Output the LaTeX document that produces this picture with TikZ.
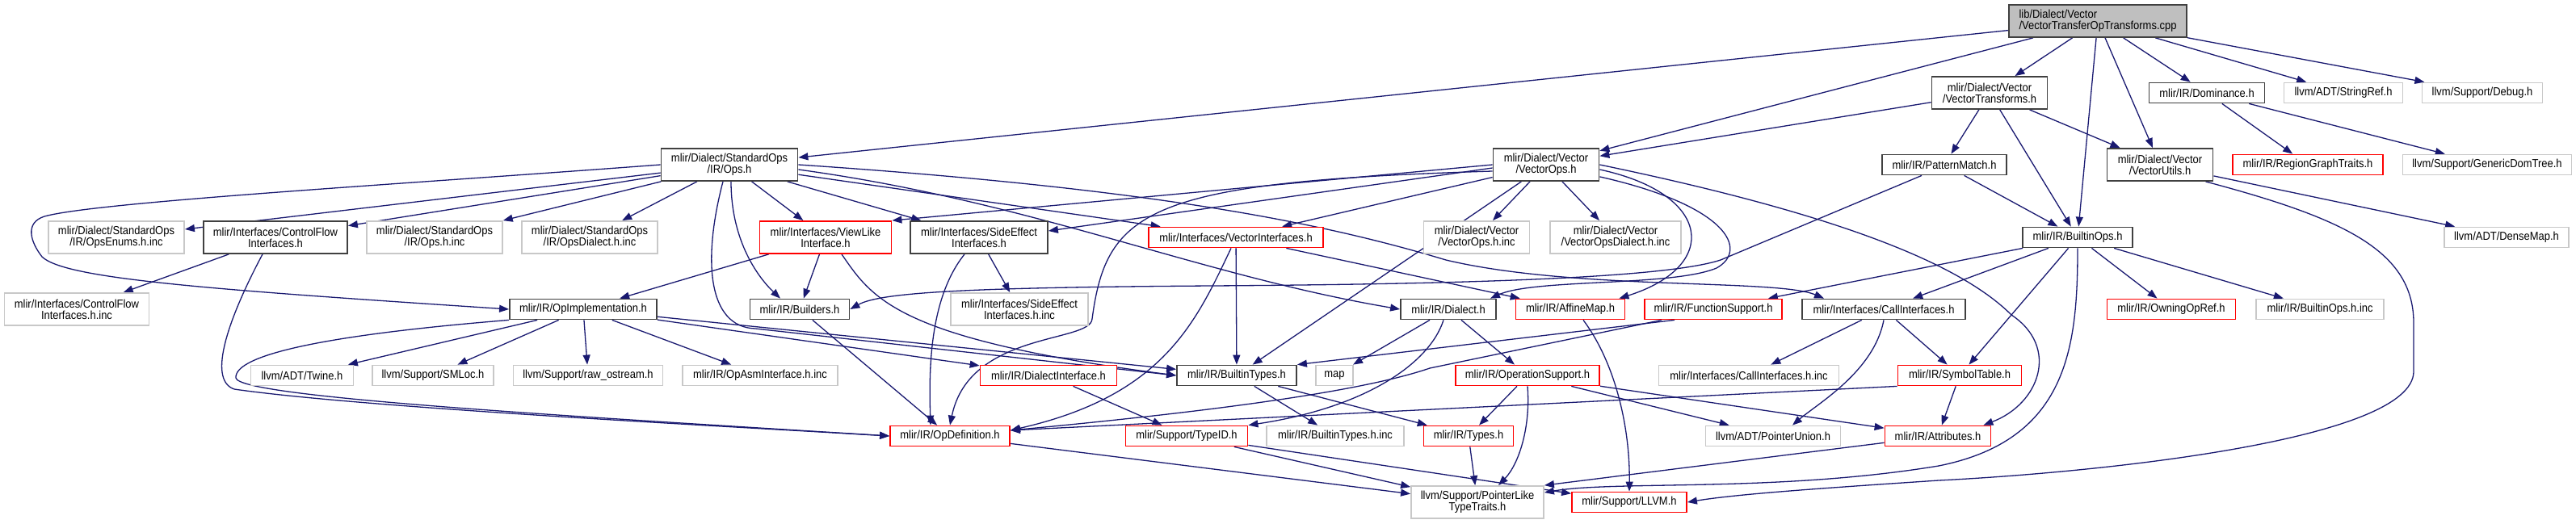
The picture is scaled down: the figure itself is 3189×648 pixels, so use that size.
\documentclass[tikz,border=0pt]{standalone}
\usepackage{fontspec}
\setmainfont{Liberation Sans}[FakeStretch=0.9]
\usetikzlibrary{arrows.meta}
\definecolor{edgeblue}{RGB}{25,25,112}
\definecolor{bordblk}{RGB}{64,64,64}
\definecolor{bordgray}{RGB}{200,200,200}
\definecolor{bordred}{RGB}{255,0,0}
\definecolor{mainfill}{RGB}{191,191,191}
\newcommand\dxfont{\fontsize{7.2pt}{7pt}\selectfont}
\pgfdeclarelayer{bg}
\pgfsetlayers{bg,main}
\begin{document}
\begin{tikzpicture}[x=0.5pt,y=-0.5pt,
  box/.style={rectangle, inner sep=0pt, line width=0.9pt, fill=white, font=\dxfont, align=center, minimum height=12.5pt},
  blk/.style={box, draw=bordblk},
  rednode/.style={box, draw=bordred},
  ext/.style={box, draw=bordgray},
  mainnode/.style={box, draw=bordblk, fill=mainfill, align=left},
  tall/.style={minimum height=20pt},
  edg/.style={draw=edgeblue, line width=0.65pt, -{Triangle[length=6pt,width=4.5pt]}}]
\useasboundingbox (0,0) rectangle (3189,648);

% row 0
\node[mainnode, tall, minimum width=110pt] (main) at (2597,26) {lib/Dialect/Vector\\/VectorTransferOpTransforms.cpp};
% row 1
\node[blk, tall, minimum width=71.5pt] (vtrans) at (2463,115) {mlir/Dialect/Vector\\/VectorTransforms.h};
\node[blk, minimum width=71.5pt] (dom) at (2732,115) {mlir/IR/Dominance.h};
\node[ext, minimum width=73.5pt] (sref) at (2901,115) {llvm/ADT/StringRef.h};
\node[ext, minimum width=74.5pt] (debug) at (3073,115) {llvm/Support/Debug.h};
% row 2
\node[blk, tall, minimum width=84.5pt] (stdops) at (903,204) {mlir/Dialect/StandardOps\\/IR/Ops.h};
\node[blk, tall, minimum width=65.5pt] (vops) at (1914,204) {mlir/Dialect/Vector\\/VectorOps.h};
\node[blk, minimum width=77pt] (pmatch) at (2407,204) {mlir/IR/PatternMatch.h};
\node[blk, tall, minimum width=65.5pt] (vutils) at (2674,204) {mlir/Dialect/Vector\\/VectorUtils.h};
\node[rednode, minimum width=93pt] (rgt) at (2857,204) {mlir/IR/RegionGraphTraits.h};
\node[ext, minimum width=104.5pt] (gdt) at (3079,204) {llvm/Support/GenericDomTree.h};
% row 3
\node[ext, tall, minimum width=84pt] (opsenums) at (144,294) {mlir/Dialect/StandardOps\\/IR/OpsEnums.h.inc};
\node[blk, tall, minimum width=89pt] (cfi) at (341,294) {mlir/Interfaces/ControlFlow\\Interfaces.h};
\node[ext, tall, minimum width=84pt] (opsinc) at (538,294) {mlir/Dialect/StandardOps\\/IR/Ops.h.inc};
\node[ext, tall, minimum width=84pt] (opsdialect) at (730,294) {mlir/Dialect/StandardOps\\/IR/OpsDialect.h.inc};
\node[rednode, tall, minimum width=81.5pt] (viewlike) at (1022,294) {mlir/Interfaces/ViewLike\\Interface.h};
\node[blk, tall, minimum width=85pt] (sideeff) at (1212,294) {mlir/Interfaces/SideEffect\\Interfaces.h};
\node[rednode, minimum width=108pt] (vecif) at (1530,294) {mlir/Interfaces/VectorInterfaces.h};
\node[ext, tall, minimum width=65.5pt] (vopsinc) at (1828,294) {mlir/Dialect/Vector\\/VectorOps.h.inc};
\node[ext, tall, minimum width=81pt] (vopsdinc) at (2000,294) {mlir/Dialect/Vector\\/VectorOpsDialect.h.inc};
\node[blk, minimum width=68pt] (bops) at (2572,294) {mlir/IR/BuiltinOps.h};
\node[ext, minimum width=77pt] (dmap) at (3103,294) {llvm/ADT/DenseMap.h};
% row 4
\node[ext, tall, minimum width=89.5pt] (cfiinc) at (95,383) {mlir/Interfaces/ControlFlow\\Interfaces.h.inc};
\node[blk, minimum width=91pt] (opimpl) at (722,383) {mlir/IR/OpImplementation.h};
\node[blk, minimum width=61.5pt] (builders) at (990,383) {mlir/IR/Builders.h};
\node[ext, tall, minimum width=85pt] (sideinc) at (1262,383) {mlir/Interfaces/SideEffect\\Interfaces.h.inc};
\node[blk, minimum width=59pt] (dialect) at (1793,383) {mlir/IR/Dialect.h};
\node[rednode, minimum width=67.5pt] (amap) at (1944,383) {mlir/IR/AffineMap.h};
\node[rednode, minimum width=85pt] (fsup) at (2121,383) {mlir/IR/FunctionSupport.h};
\node[blk, minimum width=101pt] (callif) at (2332,383) {mlir/Interfaces/CallInterfaces.h};
\node[rednode, minimum width=79.5pt] (owning) at (2688,383) {mlir/IR/OwningOpRef.h};
\node[ext, minimum width=79pt] (bopsinc) at (2872,383) {mlir/IR/BuiltinOps.h.inc};
% row 5
\node[ext, minimum width=63.5pt] (twine) at (374,465) {llvm/ADT/Twine.h};
\node[ext, minimum width=75pt] (smloc) at (536,465) {llvm/Support/SMLoc.h};
\node[ext, minimum width=92.5pt] (rawos) at (728,465) {llvm/Support/raw\_ostream.h};
\node[ext, minimum width=96pt] (opasm) at (941,465) {mlir/IR/OpAsmInterface.h.inc};
\node[rednode, minimum width=84.5pt] (diaif) at (1298,465) {mlir/IR/DialectInterface.h};
\node[blk, minimum width=74pt] (btypes) at (1531,465) {mlir/IR/BuiltinTypes.h};
\node[ext, minimum width=23pt] (map) at (1652,465) {map};
\node[rednode, minimum width=89pt] (opsup) at (1891,465) {mlir/IR/OperationSupport.h};
\node[ext, minimum width=111.5pt] (callinc) at (2165,465) {mlir/Interfaces/CallInterfaces.h.inc};
\node[rednode, minimum width=76.5pt] (symtab) at (2426,465) {mlir/IR/SymbolTable.h};
% row 6
\node[rednode, minimum width=74pt] (opdef) at (1176,540) {mlir/IR/OpDefinition.h};
\node[rednode, minimum width=75.5pt] (typeid) at (1469,540) {mlir/Support/TypeID.h};
\node[ext, minimum width=85pt] (btinc) at (1653,540) {mlir/IR/BuiltinTypes.h.inc};
\node[rednode, minimum width=55.5pt] (types) at (1818,540) {mlir/IR/Types.h};
\node[ext, minimum width=83.5pt] (punion) at (2195,540) {llvm/ADT/PointerUnion.h};
\node[rednode, minimum width=65.5pt] (attrs) at (2399,540) {mlir/IR/Attributes.h};
% row 7
\node[ext, tall, minimum width=82pt] (plike) at (1829,622) {llvm/Support/PointerLike\\TypeTraits.h};
\node[rednode, minimum width=71pt] (llvm) at (2017,622) {mlir/Support/LLVM.h};

\begin{pgfonlayer}{bg}
% main
\draw[edg] (main) -- (stdops);
\draw[edg] (main) -- (vops);
\draw[edg] (main) -- (vtrans);
\draw[edg] (main) -- (bops);
\draw[edg] (main) -- (vutils);
\draw[edg] (main) -- (dom);
\draw[edg] (main) -- (sref);
\draw[edg] (main) -- (debug);
% vtrans
\draw[edg] (vtrans) -- (vops);
\draw[edg] (vtrans) -- (pmatch);
\draw[edg] (vtrans) -- (bops);
\draw[edg] (vtrans) -- (vutils);
% dom
\draw[edg] (dom) -- (rgt);
\draw[edg] (dom) -- (gdt);
% vutils
\draw[edg] (vutils) -- (dmap);
\draw[edg] ([xshift=-5pt]vutils.south east) .. controls (2900,270) and (2988,310) .. (2988,400) -- (2988,460) .. controls (2988,545) and (2600,585) .. (2400,595) .. controls (2250,605) and (2150,612) .. (llvm.east);
% pmatch
\draw[edg] (pmatch) -- (bops);
\draw[edg] ([xshift=-14pt]pmatch.south) -- (2130,322) .. controls (2060,345) and (1800,352) .. (1500,354) .. controls (1200,356) and (1090,362) .. (builders.east);
% stdops
\draw[edg] (stdops) -- (opsenums);
\draw[edg] (stdops) -- (cfi);
\draw[edg] (stdops) -- (opsinc);
\draw[edg] (stdops) -- (opsdialect);
\draw[edg] (stdops) -- (viewlike);
\draw[edg] (stdops) -- (sideeff);
\draw[edg] (stdops) -- (vecif);
\draw[edg] (stdops.west) .. controls (500,228) and (120,250) .. (55,268) .. controls (30,276) and (38,300) .. (52,318) .. controls (80,345) and (250,358) .. (opimpl.west);
\draw[edg] ([xshift=-4pt]stdops.south) .. controls (870,320) and (875,405) .. (935,407) -- (btypes.west);
\draw[edg] ([xshift=1pt]stdops.south) .. controls (905,300) and (940,345) .. ([xshift=-12pt]builders.north);
\draw[edg] ([yshift=-3pt]stdops.east) .. controls (1280,250) and (1480,340) .. (dialect.west);
\draw[edg] (stdops.east) .. controls (1450,235) and (1650,280) .. (1790,322) .. controls (1950,360) and (2200,345) .. ([xshift=-37pt]callif.north);
% vops
\draw[edg] (vops.west) -- (viewlike.north east);
\draw[edg] ([yshift=-2pt]vops.west) -- ([yshift=4pt]sideeff.east);
\draw[edg] (vops) -- (vecif);
\draw[edg] (vops) -- (btypes);
\draw[edg] (vops) -- (vopsinc);
\draw[edg] (vops) -- (vopsdinc);
\draw[edg] ([yshift=-4pt]vops.west) .. controls (1420,225) and (1370,260) .. (1352,395) .. controls (1350,425) and (1200,410) .. (opdef.north);
\draw[edg] ([yshift=3pt]vops.south east) .. controls (2140,255) and (2165,310) .. (2125,332) .. controls (2070,355) and (1900,345) .. ([xshift=-4pt]dialect.north east);
\draw[edg] ([yshift=-3pt]vops.east) .. controls (2120,240) and (2130,330) .. ([xshift=-4pt]amap.north east);
\draw[edg] (vops.east) .. controls (2250,260) and (2420,320) .. (2490,390) .. controls (2550,430) and (2525,500) .. ([xshift=-5pt]attrs.north east);
% cfi
\draw[edg] (cfi) -- (cfiinc);
\draw[edg] ([xshift=-8pt]cfi.south) .. controls (285,390) and (255,470) .. (290,482) .. controls (450,505) and (900,528) .. (opdef.west);
% viewlike
\draw[edg] (viewlike) -- (builders);
\draw[edg] (viewlike) -- (opimpl);
\draw[edg] ([xshift=10pt]viewlike.south) .. controls (1080,370) and (1110,420) .. (btypes.west);
% sideeff
\draw[edg] (sideeff) -- (sideinc);
\draw[edg] ([xshift=-9pt]sideeff.south) .. controls (1150,370) and (1150,460) .. ([xshift=-12pt]opdef.north);
% vecif
\draw[edg] (vecif) -- (amap);
\draw[edg] (vecif) -- (btypes);
\draw[edg] ([xshift=-3pt]vecif.south) .. controls (1480,400) and (1440,490) .. ([yshift=3.5pt]opdef.east);
% bops
\draw[edg] (bops) -- (fsup);
\draw[edg] (bops) -- (callif);
\draw[edg] (bops) -- (symtab);
\draw[edg] (bops) -- (owning);
\draw[edg] (bops) -- (bopsinc);
\draw[edg] (bops.south) .. controls (2572,430) and (2560,545) .. (2400,577) .. controls (2200,610) and (2000,595) .. ([yshift=6pt]plike.east);
% opimpl
\draw[edg] (opimpl) -- (twine);
\draw[edg] (opimpl) -- (smloc);
\draw[edg] (opimpl) -- (rawos);
\draw[edg] (opimpl) -- (opasm);
\draw[edg] (opimpl) -- (diaif);
\draw[edg] (opimpl) -- (btypes);
\draw[edg] (opimpl.south west) .. controls (400,415) and (290,440) .. (292,468) .. controls (295,492) and (700,515) .. (opdef.west);
% builders
\draw[edg] (builders) -- (opdef);
% dialect
\draw[edg] (dialect) -- (map);
\draw[edg] (dialect) -- (opsup);
\draw[edg] ([xshift=-3pt]dialect.south) .. controls (1770,450) and (1690,505) .. (typeid.north east);
% amap
\draw[edg] ([xshift=8pt]amap.south) .. controls (2000,450) and (2018,530) .. (llvm.north);
% fsup
\draw[edg] ([xshift=-24pt]fsup.south) -- (btypes.north east);
\draw[edg] ([xshift=-32pt]fsup.south) -- (1770,456) .. controls (1700,480) and (1550,505) .. ([yshift=3.5pt]opdef.east);
% callif
\draw[edg] (callif) -- (callinc);
\draw[edg] (callif) -- (symtab);
\draw[edg] (callif.south) .. controls (2320,460) and (2250,500) .. ([xshift=12pt]punion.north);
% symtab
\draw[edg] (symtab) -- (attrs);
\draw[edg] (symtab.south west) -- ([yshift=3.5pt]opdef.east);
% diaif
\draw[edg] (diaif) -- (typeid);
% btypes
\draw[edg] (btypes) -- (btinc);
\draw[edg] (btypes) -- (types);
% opsup
\draw[edg] (opsup) -- (types);
\draw[edg] (opsup) -- (punion);
\draw[edg] (opsup) -- (attrs);
\draw[edg] (opsup.south) .. controls (1895,530) and (1880,575) .. ([xshift=13pt]plike.north);
% lower
\draw[edg] (opdef) -- (plike);
\draw[edg] (typeid) -- (plike);
\draw[edg] (typeid) -- (llvm);
\draw[edg] (types) -- (plike);
\draw[edg] (attrs) -- (plike.north east);
\end{pgfonlayer}
\end{tikzpicture}
\end{document}
